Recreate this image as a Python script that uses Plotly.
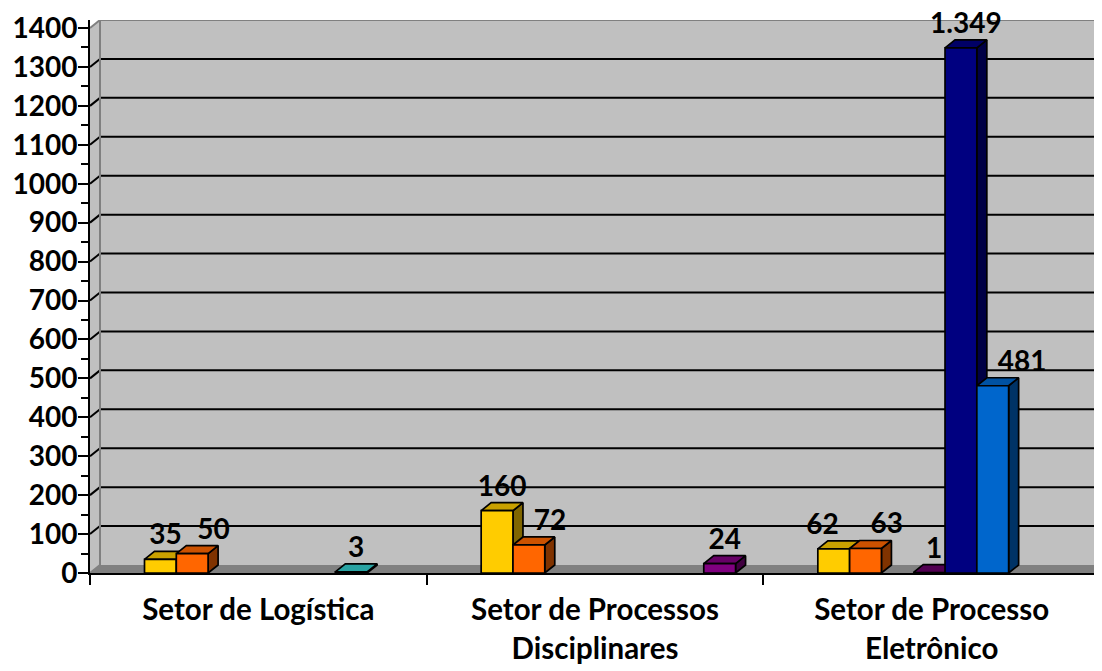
import plotly.graph_objects as go

# Dados do gráfico
categorias = ["Setor de Logística", "Setor de Processos<br>Disciplinares",
              "Setor de Processo<br>Eletrônico"]
serie_1 = [35, 160, 62]
serie_2 = [50, 72, 63]
serie_3 = [None, None, None]
serie_4 = [None, None, 1]
serie_5 = [None, None, 1349]
serie_6 = [None, None, 481]
serie_7 = [3, None, None]
serie_8 = [None, 24, None]
y_ticks = list(range(0, 1500, 100))

series = [serie_1, serie_2, serie_3, serie_4, serie_5, serie_6, serie_7, serie_8]
# (frente, topo, lateral)
cores = [
    ("#FFCC00", "#C9A100", "#806600"),
    ("#FF6600", "#CC5200", "#803300"),
    ("#FFFF99", "#CCCC7A", "#80804D"),
    ("#660066", "#520052", "#330033"),
    ("#000080", "#000066", "#000045"),
    ("#0066CC", "#0052A3", "#003366"),
    ("#33CCCC", "#29A3A3", "#1A6666"),
    ("#800080", "#660066", "#400040"),
]
# posição dos rótulos, na ordem em que as barras são desenhadas
pos_rotulos = ["top center", "top right", "top center",
               "top center", "top right", "top center",
               "top left", "top right", "top center", "top center", "top right"]

# geometria do efeito 3D (em unidades dos eixos)
px_x = 1010 / 3.0
px_y = 545 / 1400.0
dx = 10 / px_x
dy = 8 / px_y
larg = 31.8 / px_x
inicio = -0.5 + 54.5 / px_x
x_max = 2.5 + 2 / px_x
y_max = 1400 + dy

fig = go.Figure()


def face(xs, ys, cor):
    fig.add_trace(go.Scatter(
        x=xs + [xs[0]], y=ys + [ys[0]], mode="lines", fill="toself",
        fillcolor=cor, line=dict(color="black", width=1.7),
        hoverinfo="skip", showlegend=False))


# barras da esquerda para a direita (pintor)
rotulos_x, rotulos_y, rotulos_t = [], [], []
for c in range(len(categorias)):
    for s, valores in enumerate(series):
        v = valores[c]
        if v is None:
            continue
        x0 = c + inicio + s * larg
        x1 = x0 + larg
        frente, topo, lado = cores[s]
        face([x1, x1 + dx, x1 + dx, x1], [0, dy, v + dy, v], lado)
        face([x0, x1, x1 + dx, x0 + dx], [v, v, v + dy, v + dy], topo)
        face([x0, x1, x1, x0], [0, 0, v, v], frente)
        rotulos_x.append((x0 + x1) / 2 + dx / 2)
        rotulos_y.append(v + dy)
        rotulos_t.append(f"{v:,}".replace(",", "."))

fig.add_trace(go.Scatter(
    x=rotulos_x, y=rotulos_y, text=rotulos_t, mode="text",
    textposition=pos_rotulos,
    textfont=dict(family="Lato", size=28, color="black", weight="bold"),
    hoverinfo="skip", showlegend=False, cliponaxis=False))

# paredes e piso
shapes = []
shapes.append(dict(type="rect", xref="x", yref="y", layer="below",
                   x0=-0.5 + dx, x1=x_max + dx, y0=dy, y1=y_max,
                   fillcolor="#C0C0C0", line=dict(width=0)))
shapes.append(dict(type="path", xref="x", yref="y", layer="below",
                   path=f"M -0.5,0 L {-0.5 + dx},{dy} L {-0.5 + dx},{y_max} "
                        f"L -0.5,1400 Z",
                   fillcolor="#C0C0C0", line=dict(width=0)))
shapes.append(dict(type="path", xref="x", yref="y", layer="below",
                   path=f"M -0.5,0 L 2.5,0 L {2.5 + dx},{dy} L {-0.5 + dx},{dy} Z",
                   fillcolor="#808080", line=dict(width=0)))
for v in y_ticks[1:-1]:
    shapes.append(dict(type="line", xref="x", yref="y", layer="below",
                       x0=-0.5 + dx, x1=x_max + dx, y0=v + dy, y1=v + dy,
                       line=dict(color="black", width=2)))
    shapes.append(dict(type="line", xref="x", yref="y", layer="below",
                       x0=-0.5, x1=-0.5 + dx, y0=v, y1=v + dy,
                       line=dict(color="black", width=2)))
# bordas cinza da parede
shapes.append(dict(type="line", xref="x", yref="y", layer="below",
                   x0=-0.5 + dx, x1=-0.5 + dx, y0=dy, y1=y_max,
                   line=dict(color="#808080", width=2)))
shapes.append(dict(type="line", xref="x", yref="y", layer="below",
                   x0=-0.5 + dx, x1=x_max + dx, y0=y_max, y1=y_max,
                   line=dict(color="#808080", width=2)))
shapes.append(dict(type="line", xref="x", yref="y", layer="below",
                   x0=-0.5, x1=-0.5 + dx, y0=1400, y1=y_max,
                   line=dict(color="#808080", width=2)))
shapes.append(dict(type="line", xref="x", yref="y", layer="below",
                   x0=-0.5, x1=-0.5 + dx, y0=0, y1=dy,
                   line=dict(color="#808080", width=2)))

fonte_y = dict(family="Lato", size=28, color="black", weight="bold")
fonte_x = dict(family="Lato", size=29.5, color="black", weight="bold")

# a página tem 8 px de margem no body: figura um pouco menor que a janela
fig.update_layout(
    width=1094, height=663,
    margin=dict(l=82, r=0, t=12, b=98),
    paper_bgcolor="white", plot_bgcolor="white",
    shapes=shapes, showlegend=False,
    xaxis=dict(
        range=[-0.5, x_max], tickvals=[0, 1, 2], ticktext=categorias,
        ticks="", showgrid=False, zeroline=False, automargin=False,
        showline=True, linecolor="black", linewidth=2,
        tickfont=fonte_x, ticklabelstandoff=10,
        minor=dict(tickvals=[-0.5, 0.5, 1.5, 2.5], ticks="outside",
                   ticklen=10, tickwidth=2, tickcolor="black", showgrid=False),
    ),
    yaxis=dict(
        range=[0, y_max], tickvals=y_ticks, ticks="outside", ticklen=10,
        tickwidth=2, tickcolor="black", showgrid=False, zeroline=False,
        automargin=False, ticklabelstandoff=-5,
        showline=True, linecolor="black", linewidth=2, tickfont=fonte_y,
        minor=dict(dtick=50, ticks="outside", ticklen=7, tickwidth=2,
                   tickcolor="black", showgrid=False),
    ),
)

fig.write_html("out.html")
